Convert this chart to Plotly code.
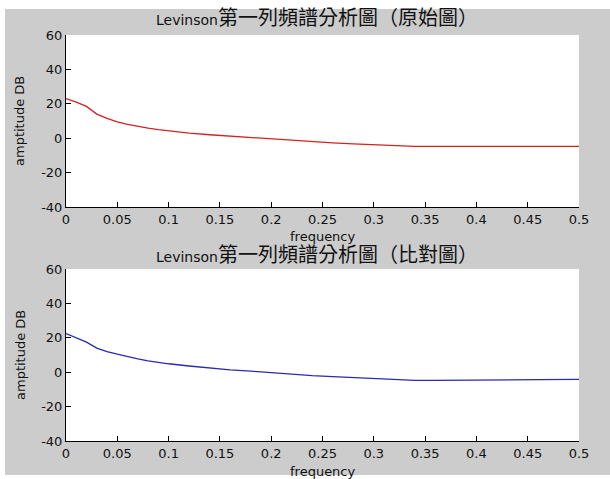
import plotly.graph_objects as go

# Frequency grid (normalised, 0 .. 0.5)
freq = [0.0, 0.01, 0.02, 0.03, 0.04, 0.05, 0.06, 0.07, 0.08, 0.09, 0.10,
        0.12, 0.14, 0.16, 0.18, 0.20, 0.22, 0.24, 0.26, 0.28, 0.30,
        0.32, 0.34, 0.36, 0.40, 0.45, 0.46, 0.50]

# Levinson spectrum of the first column - original
amp_original = [23.0, 21.0, 18.5, 14.0, 11.5, 9.5, 8.0, 6.8, 5.8, 5.0, 4.2,
                3.0, 2.0, 1.2, 0.3, -0.6, -1.3, -2.1, -2.7, -3.3, -3.9,
                -4.3, -4.7, -4.8, -4.9, -4.9, -4.9, -4.8]

# Levinson spectrum of the first column - comparison
amp_compare = [22.5, 20.0, 17.5, 14.0, 12.0, 10.5, 9.0, 7.8, 6.6, 5.6, 4.9,
               3.6, 2.4, 1.4, 0.6, -0.4, -1.2, -2.0, -2.6, -3.2, -3.9,
               -4.4, -4.7, -4.7, -4.7, -4.7, -4.3, -4.2]

x_ticks = [0, 0.05, 0.1, 0.15, 0.2, 0.25, 0.3, 0.35, 0.4, 0.45, 0.5]
x_tick_text = ["0", "0.05", "0.1", "0.15", "0.2", "0.25", "0.3", "0.35", "0.4", "0.45", "0.5"]
y_ticks = [-40, -20, 0, 20, 40, 60]
y_tick_text = ["-40", "-20", "0", "20", "40", "60"]

title_prefix = "Levinson"
title_suffixes = ["第一列頻譜分析圖（原始圖）", "第一列頻譜分析圖（比對圖）"]
x_label = "frequency"
y_label = "amptitude DB"

FONT = "DejaVu Sans, Liberation Sans, sans-serif"
CJK = "Noto Sans CJK TC"
W, H = 610, 479
ML, MR, MT, MB = 66, 31, 35, 38
PW, PH = W - ML - MR, H - MT - MB


def px(x):
    return (x - ML) / PW


def py(y):
    return (H - MB - y) / PH


fig = go.Figure()
fig.add_trace(go.Scatter(x=freq, y=amp_original, mode="lines",
                         line=dict(color="#d42222", width=1.3),
                         xaxis="x", yaxis="y", showlegend=False))
fig.add_trace(go.Scatter(x=freq, y=amp_compare, mode="lines",
                         line=dict(color="#2a2ab0", width=1.3),
                         xaxis="x2", yaxis="y2", showlegend=False))

axis_common = dict(showgrid=False, zeroline=False, showline=True,
                   linecolor="black", linewidth=1, ticks="inside",
                   ticklen=5, tickcolor="black", mirror=False,
                   tickfont=dict(family=FONT, size=13, color="#111111"))

top_dom = [py(207), 1.0]
bot_dom = [0.0, py(269)]

# thin white frame around the grey figure area
frame = [
    dict(x0=px(0), x1=px(5), y0=py(479), y1=py(0)),
    dict(x0=px(0), x1=px(610), y0=py(9), y1=py(0)),
    dict(x0=px(0), x1=px(610), y0=py(479), y1=py(475)),
]
shapes = [dict(type="rect", xref="paper", yref="paper", layer="above",
               fillcolor="white", line=dict(width=0), **f) for f in frame]

fig.update_layout(
    width=W, height=H,
    margin=dict(l=ML, r=MR, t=MT, b=MB),
    paper_bgcolor="#cccccc",
    plot_bgcolor="white",
    xaxis=dict(domain=[0, 1], anchor="y", range=[0, 0.5],
               tickvals=x_ticks, ticktext=x_tick_text, **axis_common),
    yaxis=dict(domain=top_dom, anchor="x", range=[-40, 60],
               tickvals=y_ticks, ticktext=y_tick_text, **axis_common),
    xaxis2=dict(domain=[0, 1], anchor="y2", range=[0, 0.5],
                tickvals=x_ticks, ticktext=x_tick_text, **axis_common),
    yaxis2=dict(domain=bot_dom, anchor="x2", range=[-40, 60],
                tickvals=y_ticks, ticktext=y_tick_text, **axis_common),
    shapes=shapes,
)

ann_font = dict(family=FONT, size=13, color="#111111")
title_font = dict(family=FONT, size=14, color="#111111")


def title_text(suffix):
    return (title_prefix +
            f'<span style="font-family:{CJK};font-size:20px">{suffix}</span>')


annotations = [
    dict(text=title_text(title_suffixes[0]), x=0.49, y=py(17), font=title_font),
    dict(text=title_text(title_suffixes[1]), x=0.49, y=py(253), font=title_font),
    dict(text=x_label, x=0.5, y=py(237), font=ann_font),
    dict(text=x_label, x=0.5, y=py(471), font=ann_font),
    dict(text=y_label, x=px(20), y=py(121), font=ann_font, textangle=-90),
    dict(text=y_label, x=px(20), y=py(355), font=ann_font, textangle=-90),
]
for a in annotations:
    fig.add_annotation(xref="paper", yref="paper", showarrow=False,
                       xanchor="center", yanchor="middle", **a)

fig.write_html("out.html")
